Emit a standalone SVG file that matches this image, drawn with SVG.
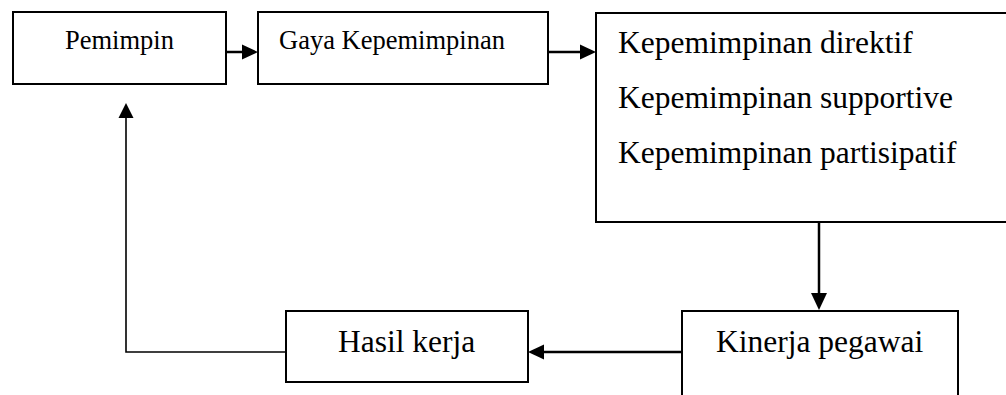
<svg xmlns="http://www.w3.org/2000/svg" width="1006" height="395" viewBox="0 0 1006 395">
<style>
.box{fill:#fff;stroke:#000;stroke-width:2}
.t{font-family:"Liberation Serif","Times New Roman",serif;fill:#000}
.s{font-size:26.5px}
.b{font-size:31.5px}
.ln{fill:none;stroke:#000;stroke-width:2.5}
.thin{fill:none;stroke:#000;stroke-width:1.6}
.hd{fill:#000;stroke:none}
</style>
<rect width="1006" height="395" fill="#fff"/>
<g id="connectors">
<line class="ln" x1="226" y1="52" x2="243" y2="52"/>
<polygon class="hd" points="242,44.5 258,52 242,59.5"/>
<line class="ln" x1="548" y1="52" x2="581" y2="52"/>
<polygon class="hd" points="580,44.5 596,52 580,59.5"/>
<line class="ln" x1="819" y1="222" x2="819" y2="294"/>
<polygon class="hd" points="811,293 827,293 819,310"/>
<line class="ln" x1="682" y1="352" x2="542" y2="352"/>
<polygon class="hd" points="544,344.5 544,359.5 528,352"/>
<polyline class="thin" points="286,352 126,352 126,117"/>
<polygon class="hd" points="118.5,118 133.5,118 126,103"/>
</g>
<g id="pemimpin">
<rect class="box" x="13" y="12" width="213" height="72"/>
<text class="t s" x="65" y="49">Pemimpin</text>
</g>
<g id="gaya">
<rect class="box" x="258" y="12" width="290" height="72"/>
<text class="t s" x="279" y="49">Gaya Kepemimpinan</text>
</g>
<g id="jenis">
<rect class="box" x="596" y="13" width="420" height="209"/>
<text class="t b" x="618" y="53">Kepemimpinan direktif</text>
<text class="t b" x="618" y="108">Kepemimpinan supportive</text>
<text class="t b" x="618" y="163">Kepemimpinan partisipatif</text>
</g>
<g id="kinerja">
<rect class="box" x="682" y="311" width="276" height="100"/>
<text class="t b" x="716" y="352">Kinerja pegawai</text>
</g>
<g id="hasil">
<rect class="box" x="286" y="311" width="242" height="71"/>
<text class="t b" x="338" y="352">Hasil kerja</text>
</g>
</svg>
